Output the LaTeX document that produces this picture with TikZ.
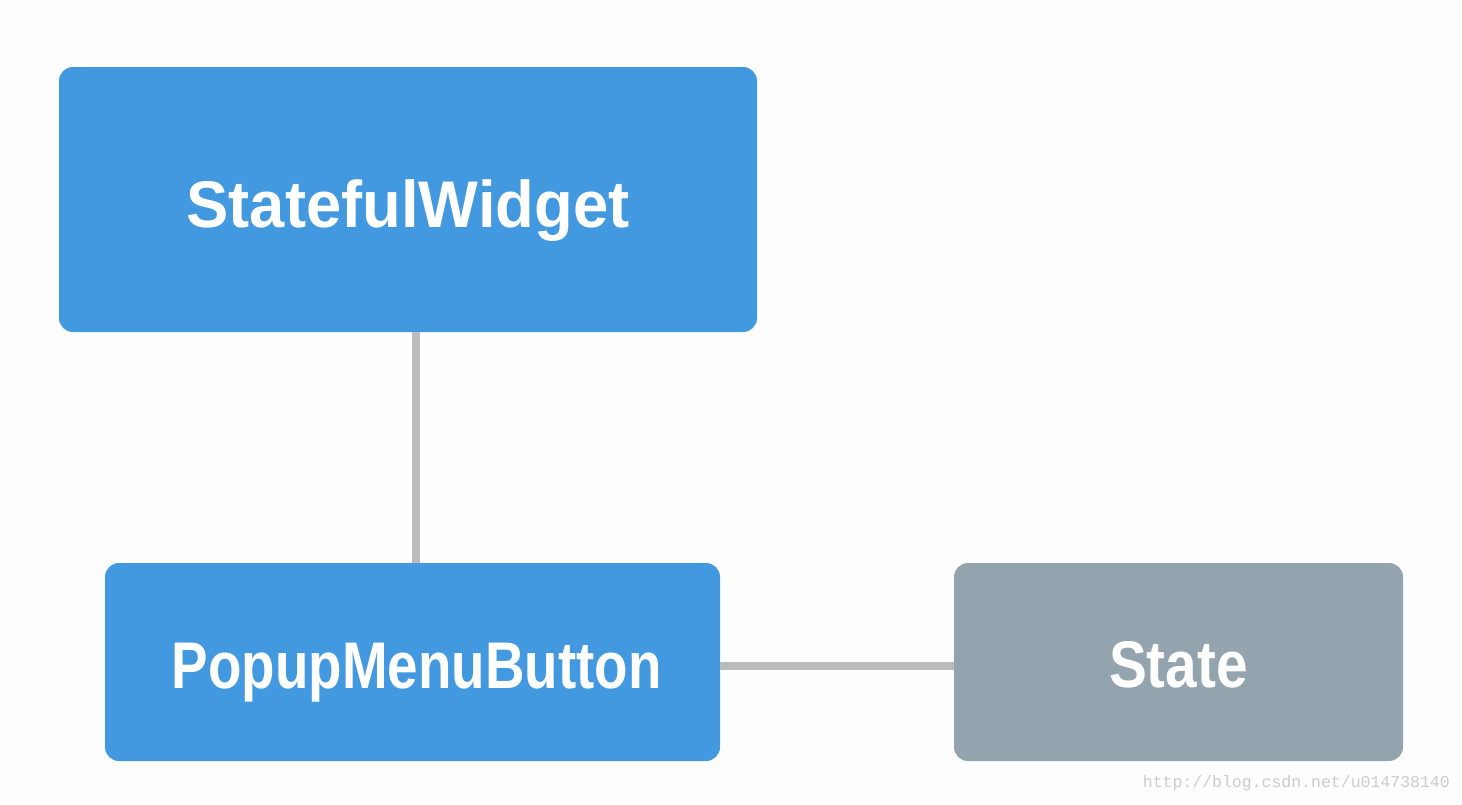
\documentclass[tikz,border=0pt]{standalone}
\usepackage{fontspec}
\usepackage{graphicx}
\setmainfont{Liberation Sans}
\newfontfamily\wmfont{Liberation Mono}
\definecolor{bgc}{HTML}{FDFDFD}
\definecolor{bluec}{HTML}{4299E0}
\definecolor{greyc}{HTML}{94A4AE}
\definecolor{linec}{HTML}{BBBBBB}
\definecolor{wmc}{HTML}{CCCCCC}
\tikzset{
  box/.style={fill=#1, rounded corners=14pt, inner sep=0pt, text=white, text height=49pt, text depth=0pt, font=\fontsize{66}{70}\selectfont\bfseries},
  conn/.style={draw=linec, line width=8pt}
}
\begin{document}
\begin{tikzpicture}[x=1pt,y=-1pt]
\fill[bgc] (0,0) rectangle (1462,804);
\useasboundingbox (0,0) rectangle (1462,804);
\node[box=bluec, minimum width=698pt, minimum height=265pt] (sw) at (408,199.5) {\raisebox{-3.5pt}{\scalebox{0.96}[1]{StatefulWidget}}};
\node[box=bluec, minimum width=615pt, minimum height=198pt] (pm) at (412.5,662) {\hspace*{8pt}\raisebox{-2pt}{\scalebox{0.83}[1]{PopupMenuButton}}};
\node[box=greyc, minimum width=449pt, minimum height=198pt] (st) at (1178.5,662) {\raisebox{-1pt}{\scalebox{0.86}[1]{State}}};
\draw[conn] (sw.south -| 416,0) -- (pm.north -| 416,0);
\draw[conn] (pm.east |- 0,666) -- (st.west |- 0,666);
\node[font=\wmfont\fontsize{16.5}{18}\selectfont, text=wmc, anchor=east, inner sep=0pt] (wm) at (1450,783) {http://blog.csdn.net/u014738140};
\end{tikzpicture}
\end{document}
